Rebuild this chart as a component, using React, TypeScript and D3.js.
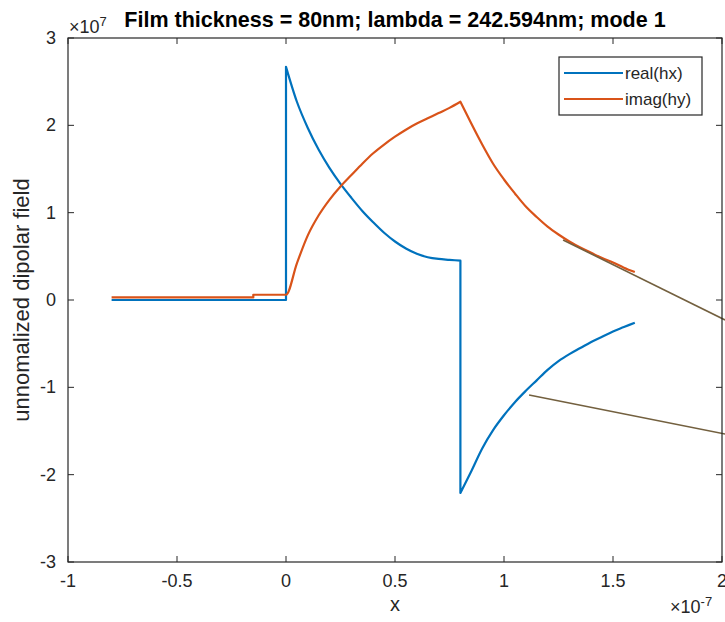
import React from 'react'
import * as d3 from 'd3'

// x in units of 1e-7, y in units of 1e7
const realX = [-0.8, 0, 0, 0.05, 0.1, 0.15, 0.2, 0.25, 0.3, 0.35, 0.4, 0.45, 0.5, 0.55, 0.6, 0.65, 0.7, 0.75, 0.8,
  0.8, 0.85, 0.9, 0.95, 1.0, 1.05, 1.1, 1.15, 1.2, 1.25, 1.3, 1.35, 1.4, 1.45, 1.5, 1.55, 1.6]
const realY = [0, 0, 2.67, 2.27, 1.97, 1.72, 1.51, 1.33, 1.17, 1.02, 0.89, 0.77, 0.67, 0.59, 0.53, 0.49, 0.47, 0.46, 0.45,
  -2.21, -1.96, -1.70, -1.49, -1.32, -1.17, -1.04, -0.92, -0.80, -0.70, -0.62, -0.55, -0.48, -0.42, -0.36, -0.31, -0.26]

// 0.8 is listed twice: the curve has a corner there
const imagX = [-0.8, -0.15, -0.15, 0, 0.05, 0.1, 0.15, 0.2, 0.25, 0.3, 0.35, 0.4, 0.45, 0.5, 0.55, 0.6, 0.65, 0.7, 0.75, 0.8,
  0.8, 0.85, 0.9, 0.95, 1.0, 1.05, 1.1, 1.15, 1.2, 1.25, 1.3, 1.35, 1.4, 1.45, 1.5, 1.55, 1.6]
const imagY = [0.03, 0.03, 0.06, 0.06, 0.42, 0.74, 0.97, 1.15, 1.30, 1.43, 1.56, 1.68, 1.78, 1.87, 1.95, 2.02, 2.08, 2.14, 2.20, 2.27,
  2.27, 2.02, 1.78, 1.56, 1.38, 1.22, 1.07, 0.95, 0.84, 0.75, 0.67, 0.60, 0.54, 0.48, 0.43, 0.37, 0.32]

// two stray annotation strokes, [x1, y1, x2, y2]
const noteLines = [
  [1.271, 0.687, 2.014, -0.229],
  [1.115, -1.088, 2.014, -1.535],
]

const xTicks = [-1, -0.5, 0, 0.5, 1, 1.5, 2]
const yTicks = [-3, -2, -1, 0, 1, 2, 3]
const legendLabels = ['real(hx)', 'imag(hy)']
const colors = ['#0072BD', '#D95319']

const W = 725
const H = 622
const margin = { top: 38, right: 3, bottom: 60, left: 68 }
const axisColor = '#262626'
const font = 'Liberation Sans, Arial, sans-serif'

// split where x repeats (jumps / corners) so each piece can be smoothed
const pieces = (xs: number[], ys: number[]) => {
  const out: [number, number][][] = [[]]
  xs.forEach((v, i) => {
    if (i > 0 && v === xs[i - 1]) out.push([])
    out[out.length - 1].push([v, ys[i]])
  })
  return out
}

const App = () => {
  const x = d3.scaleLinear().domain([-1, 2]).range([margin.left, W - margin.right])
  const y = d3.scaleLinear().domain([-3, 3]).range([H - margin.bottom, margin.top])

  const line = d3.line<[number, number]>()
    .x(d => x(d[0]))
    .y(d => y(d[1]))
    .curve(d3.curveMonotoneX)

  const series = [pieces(realX, realY), pieces(imagX, imagY)]

  const pathFor = (segs: [number, number][][]) => {
    let d = ''
    segs.forEach((s, i) => {
      const p = line(s) || ''
      d += i === 0 ? p : 'L' + p.slice(1)
    })
    return d
  }

  const x0 = x(-1)
  const x1 = x(2)
  const y0 = y(-3)
  const y1 = y(3)
  const tick = 6

  return (
    <svg width={W} height={H} style={{ position: 'absolute', left: 0, top: 0, background: '#fff' }}
      fontFamily={font}>
      <rect x={0} y={0} width={W} height={H} fill="#fff" />

      {series.map((s, i) => (
        <path key={i} d={pathFor(s)} fill="none" stroke={colors[i]} strokeWidth={2.2}
          strokeLinejoin="round" />
      ))}

      {noteLines.map((l, i) => (
        <line key={i} x1={x(l[0])} y1={y(l[1])} x2={x(l[2])} y2={y(l[3])}
          stroke="#73603f" strokeWidth={1.6} />
      ))}

      {/* box */}
      <rect x={x0} y={y1} width={x1 - x0} height={y0 - y1} fill="none" stroke={axisColor} strokeWidth={1.2} />

      {xTicks.map(t => (
        <g key={'x' + t}>
          <line x1={x(t)} x2={x(t)} y1={y0} y2={y0 - tick} stroke={axisColor} />
          <line x1={x(t)} x2={x(t)} y1={y1} y2={y1 + tick} stroke={axisColor} />
          <text x={x(t)} y={y0 + 25} textAnchor="middle" fontSize={18} fill={axisColor}>{t}</text>
        </g>
      ))}
      {yTicks.map(t => (
        <g key={'y' + t}>
          <line x1={x0} x2={x0 + tick} y1={y(t)} y2={y(t)} stroke={axisColor} />
          <line x1={x1} x2={x1 - tick} y1={y(t)} y2={y(t)} stroke={axisColor} />
          <text x={x0 - 12} y={y(t) + 6} textAnchor="end" fontSize={18} fill={axisColor}>{t}</text>
        </g>
      ))}

      {/* exponents */}
      <text x={x0 + 1} y={y1 - 5} fontSize={18} fill={axisColor}>
        ×10<tspan dy={-7} fontSize={13}>7</tspan>
      </text>
      <text x={x1 - 52} y={y0 + 51} fontSize={18} fill={axisColor}>
        ×10<tspan dy={-7} fontSize={13}>-7</tspan>
      </text>

      <text x={(x0 + x1) / 2} y={27} textAnchor="middle" fontSize={21.5} fontWeight="bold" fill="#000">
        Film thickness = 80nm; lambda = 242.594nm; mode 1
      </text>
      <text x={(x0 + x1) / 2} y={y0 + 49} textAnchor="middle" fontSize={20} fill={axisColor}>x</text>
      <text transform={`translate(29,${(y0 + y1) / 2}) rotate(-90)`} textAnchor="middle" fontSize={22}
        fill={axisColor}>unnomalized dipolar field</text>

      {/* legend */}
      <g transform="translate(559,57)">
        <rect x={0} y={0} width={143} height={58} fill="#fff" stroke={axisColor} strokeWidth={1.2} />
        {legendLabels.map((lab, i) => (
          <g key={lab} transform={`translate(0,${16 + i * 26})`}>
            <line x1={5} x2={64} y1={0} y2={0} stroke={colors[i]} strokeWidth={2.2} />
            <text x={66} y={6} fontSize={17} fill={axisColor}>{lab}</text>
          </g>
        ))}
      </g>
    </svg>
  )
}

export default App
